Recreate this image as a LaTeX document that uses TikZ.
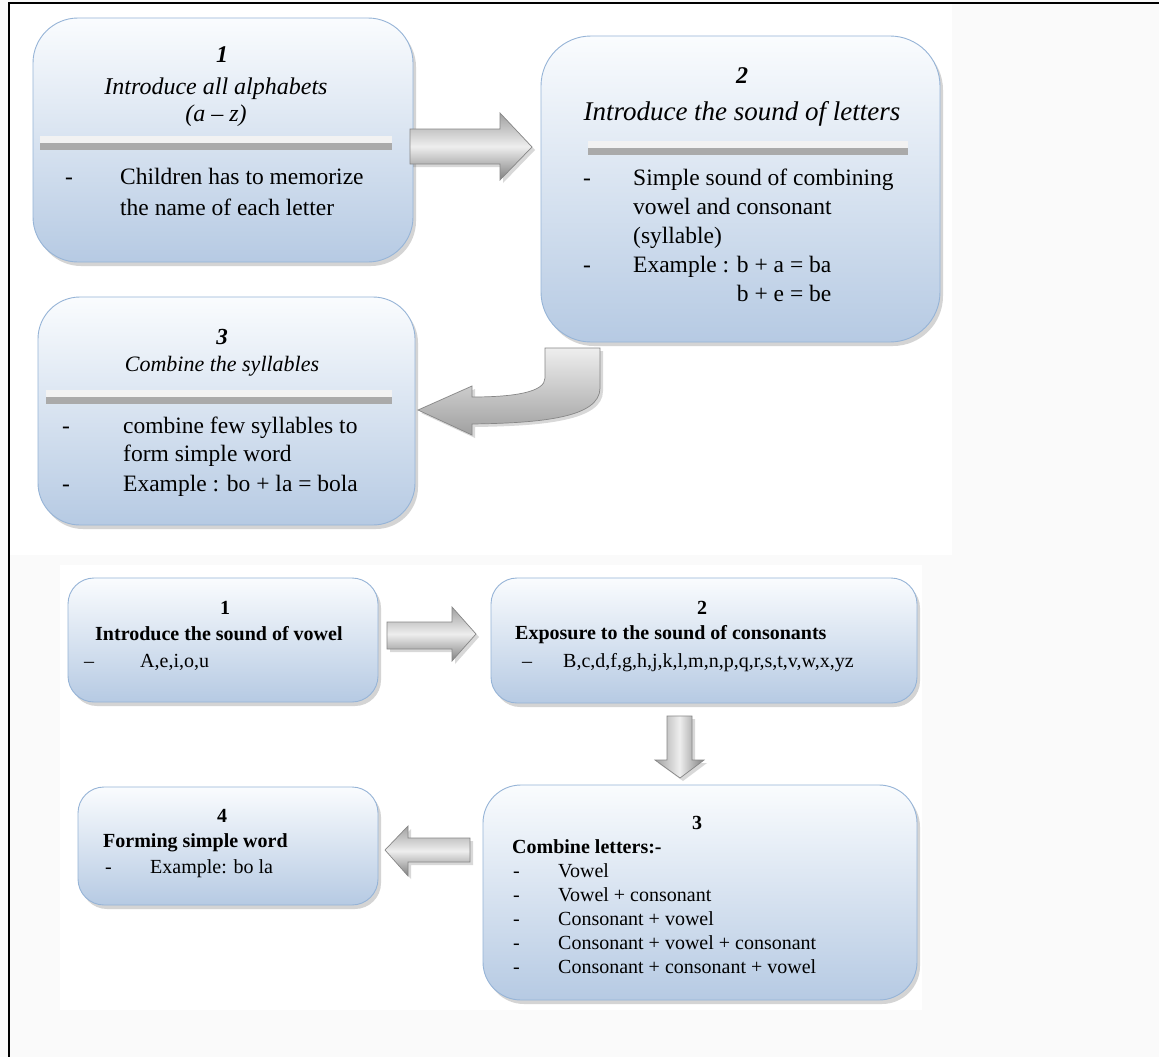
\documentclass[tikz,border=0pt]{standalone}
\usepackage{fontspec}
\setmainfont{Liberation Serif}
\usetikzlibrary{shadows,fit}

\definecolor{boxtop}{RGB}{250,252,254}
\definecolor{boxbot}{RGB}{182,202,227}
\definecolor{boxline}{RGB}{150,180,215}
\definecolor{pagebg}{RGB}{250,250,250}
\definecolor{arrline}{RGB}{135,135,135}
\definecolor{arrdark}{RGB}{160,160,160}
\definecolor{arrlight}{RGB}{238,238,238}
\definecolor{barlight}{RGB}{242,242,242}
\definecolor{bardark}{RGB}{170,170,170}

% dash + indented item text on one line
\newcommand\hyph[3]{\makebox[#1][l]{#2}#3}

\tikzset{
  stagebox/.style={draw=boxline, line width=0.9pt, rounded corners=#1,
    top color=boxtop, bottom color=boxbot, inner sep=0pt,
    drop shadow={shadow xshift=3pt, shadow yshift=-4pt, opacity=0.3, fill=black!55}},
  blockarrow/.style={draw=arrline, line width=0.7pt, line join=miter,
    drop shadow={shadow xshift=3pt, shadow yshift=-3pt, opacity=0.25, fill=black!60}},
  harrow/.style={blockarrow, top color=arrdark, bottom color=arrdark!80!black, middle color=arrlight},
  varrow/.style={blockarrow, left color=arrdark, right color=arrdark!80!black, middle color=arrlight},
  txt/.style={inner sep=0pt, anchor=base},
  txtl/.style={inner sep=0pt, anchor=base west},
  tophead/.style={txt, font=\fontsize{24}{30}\selectfont\itshape},
  topnum/.style={txt, font=\fontsize{24}{30}\selectfont\bfseries\itshape},
  topbody/.style={txtl, font=\fontsize{23.5}{30}\selectfont},
  lowhead/.style={txtl, font=\fontsize{20}{24}\selectfont\bfseries},
  lownum/.style={txt, font=\fontsize{20}{24}\selectfont\bfseries},
  lowbody/.style={txtl, font=\fontsize{20}{24}\selectfont},
}

\begin{document}
\begin{tikzpicture}[x=1pt, y=-1pt]
\useasboundingbox (0,0) rectangle (1159,1057);

% page and pasted panels
\fill[pagebg] (0,0) rectangle (1159,1057);
\fill[white] (10,4) rectangle (952,555);
\fill[white] (60,565) rectangle (922,1010);
\draw[line width=2pt] (9,1057) -- (9,3) -- (1159,3);

% ---------------- upper flow ----------------
\node[stagebox=45pt, fit={(33,18)(413,262)}] (t1) {};
\node[stagebox=50pt, fit={(541,36)(940,342)}] (t2) {};
\node[stagebox=42pt, fit={(38,297)(415,525)}] (t3) {};

% separator bars
\fill[barlight] (40,136) rectangle (392,143);
\fill[bardark] (40,143) rectangle (392,150);
\fill[barlight] (588,141) rectangle (908,148);
\fill[bardark] (588,148) rectangle (908,155);
\fill[barlight] (46,390) rectangle (392,397);
\fill[bardark] (46,397) rectangle (392,404);

% stage 1
\node[topnum] (t1n) at (222,63) {1};
\node[tophead] (t1h) at (216,95) {Introduce all alphabets};
\node[tophead] (t1r) at (216,121) {(a – z)};
\node[topbody] (t1a) at (65,184) {\hyph{55pt}{-}{Children has to memorize}};
\node[topbody] (t1b) at (120,215) {the name of each letter};

% stage 2
\node[topnum] (t2n) at (742,84) {2};
\node[tophead, font=\fontsize{27}{32}\selectfont\itshape] (t2h) at (742,120) {Introduce the sound of letters};
\node[topbody] (t2a) at (583,185) {\hyph{50pt}{-}{Simple sound of combining}};
\node[topbody] (t2b) at (633,214.5) {vowel and consonant};
\node[topbody] (t2c) at (633,243.5) {(syllable)};
\node[topbody] (t2d) at (583,272.5) {\hyph{50pt}{-}{Example : b + a = ba}};
\node[topbody] (t2e) at (583,301.5) {\hyph{50pt}{}{\phantom{Example : }b + e = be}};

% stage 3
\node[topnum, font=\fontsize{23}{28}\selectfont\bfseries\itshape] (t3n) at (222,344) {3};
\node[tophead, font=\fontsize{22}{28}\selectfont\itshape] (t3h) at (222,371) {Combine the syllables};
\node[topbody] (t3a) at (62,433) {\hyph{61pt}{-}{combine few syllables to}};
\node[topbody] (t3b) at (123,461) {form simple word};
\node[topbody] (t3c) at (62,491) {\hyph{61pt}{-}{Example : bo + la = bola}};

% block arrows of the upper flow
\path[harrow] (410,129) -- (500,129) -- (500,113) -- (532,147) -- (500,180)
  -- (500,164) -- (410,164) -- cycle;
\path[blockarrow, top color=arrlight, bottom color=arrdark]
  (545,348) -- (600,348) -- (600,388)
  .. controls (600,418) and (540,423) .. (472,424)
  -- (472,435) -- (418,410) -- (472,386) -- (472,397)
  .. controls (515,397) and (545,392) .. (545,378) -- cycle;

% ---------------- lower flow ----------------
\node[stagebox=26pt, fit={(68,578)(378,702)}] (b1) {};
\node[stagebox=26pt, fit={(491,578)(917,703)}] (b2) {};
\node[stagebox=38pt, fit={(483,785)(917,1000)}] (b3) {};
\node[stagebox=26pt, fit={(78,787)(378,905)}] (b4) {};

\node[lownum] (b1n) at (225,614) {1};
\node[lowhead] (b1h) at (95,640) {Introduce the sound of vowel};
\node[lowbody] (b1a) at (84,667) {\hyph{56pt}{–}{A,e,i,o,u}};

\node[lownum] (b2n) at (702,614) {2};
\node[lowhead] (b2h) at (515,639) {Exposure to the sound of consonants};
\node[lowbody] (b2a) at (522,667) {\hyph{41pt}{–}{B,c,d,f,g,h,j,k,l,m,n,p,q,r,s,t,v,w,x,yz}};

\node[lownum] (b3n) at (697,829) {3};
\node[lowhead] (b3h) at (512,853) {Combine letters:-};
\node[lowbody] (b3a) at (513,877) {\hyph{45pt}{-}{Vowel}};
\node[lowbody] (b3b) at (513,901) {\hyph{45pt}{-}{Vowel + consonant}};
\node[lowbody] (b3c) at (513,925) {\hyph{45pt}{-}{Consonant + vowel}};
\node[lowbody] (b3d) at (513,949) {\hyph{45pt}{-}{Consonant + vowel + consonant}};
\node[lowbody] (b3e) at (513,973) {\hyph{45pt}{-}{Consonant + consonant + vowel}};

\node[lownum] (b4n) at (222,822) {4};
\node[lowhead] (b4h) at (103,847) {Forming simple word};
\node[lowbody] (b4a) at (105,873) {\hyph{45pt}{-}{Example: bo la}};

% block arrows of the lower flow
\path[harrow] (387,622) -- (452,622) -- (452,607) -- (476,634) -- (452,661)
  -- (452,649) -- (387,649) -- cycle;
\path[varrow] (667,716) -- (692,716) -- (692,760) -- (704,760) -- (680,778)
  -- (655,760) -- (667,760) -- cycle;
\path[harrow] (470,838) -- (408,838) -- (408,826) -- (385,850) -- (408,876)
  -- (408,862) -- (470,862) -- cycle;
\end{tikzpicture}
\end{document}
